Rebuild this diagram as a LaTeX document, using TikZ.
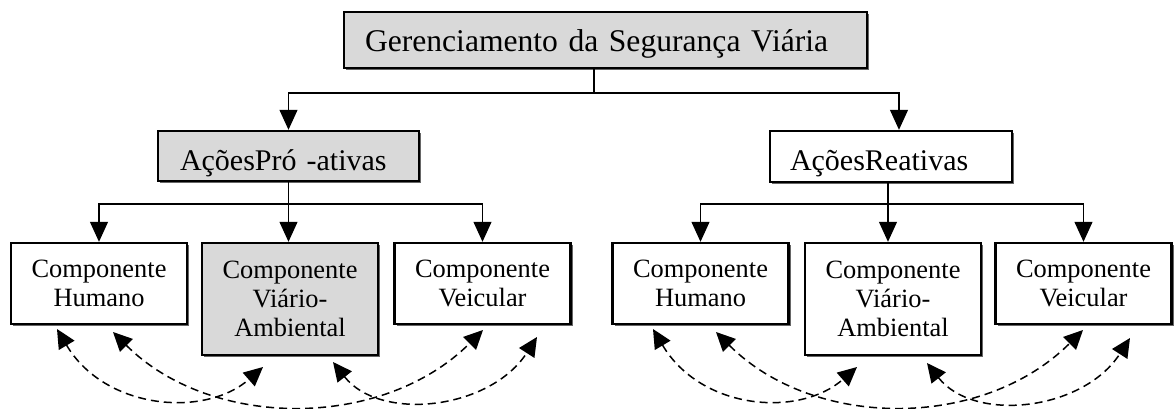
\documentclass[tikz,border=0pt]{standalone}
\usepackage{fontspec}
\setmainfont{Liberation Serif}
\usetikzlibrary{arrows.meta,shadows}

\tikzset{
  box/.style={draw, line width=1.2pt, fill=white,
    drop shadow={shadow xshift=1pt, shadow yshift=-1pt, opacity=1, fill=black!60}},
  greyfill/.style={fill=black!15},
  headbox/.style={box, align=left, text depth=0pt},
  compbox/.style={box, align=center, inner sep=0pt,
    font=\fontsize{13.2}{14.5}\selectfont, minimum width=88pt, minimum height=40.5pt},
  flow/.style={-{Triangle[length=10pt,width=9pt]}, line width=0.6pt},
  link/.style={{Triangle[length=9.5pt,width=9pt]}-{Triangle[length=9.5pt,width=9pt]},
    dash pattern=on 4pt off 2.5pt, line width=0.75pt},
}

\begin{document}
\begin{tikzpicture}[x=0.5pt,y=-0.5pt]
      \useasboundingbox (0,0) rectangle (1175,408);
      % upper levels
      \node[headbox, greyfill, font=\fontsize{15.8}{19}\selectfont, text width=240.5pt,
        inner xsep=10.5pt, minimum height=28pt, text height=11pt] (top) at (605.5,40)
        {Gerenciamento da Segurança Viária};
      \node[headbox, greyfill, font=\fontsize{15}{18}\selectfont, text width=108.5pt,
        inner xsep=11pt, minimum height=25pt, text height=14pt] (pro) at (288.5,156)
        {AçõesPró -ativas};
      \node[headbox, font=\fontsize{15}{18}\selectfont, text width=101pt,
        inner xsep=10pt, minimum height=25.5pt, text height=13.5pt] (rea) at (891,156.5)
        {AçõesReativas};
      % components
      \node[compbox] (hum1) at (99,283.5) {Componente\\Humano};
      \node[compbox, greyfill, minimum height=56pt] (via1) at (290,299) {Componente\\Viário-\\Ambiental};
      \node[compbox] (ven1) at (482.5,283.5) {Componente\\Veicular};
      \node[compbox] (hum2) at (700.5,283.5) {Componente\\Humano};
      \node[compbox, minimum height=56pt] (via2) at (893,299) {Componente\\Viário-\\Ambiental};
      \node[compbox] (ven2) at (1083.5,283.5) {Componente\\Veicular};
      % tree lines
      \coordinate (topsplit) at (594,93);
      \coordinate (prosplit) at (288.5,204);
      \coordinate (reasplit) at (888,204);
      \begin{scope}[line width=0.6pt]
        \draw (topsplit |- top.south) -- (topsplit);
        \draw[flow] (topsplit) -| (pro.north);
        \draw[flow] (topsplit) -| ([xshift=4pt]rea.north);
        \draw (pro.south) -- (prosplit);
        \draw[flow] (prosplit) -| (hum1.north);
        \draw[flow] (prosplit) -- (prosplit |- via1.north);
        \draw[flow] (prosplit) -| (ven1.north);
        \draw (reasplit |- rea.south) -- (reasplit);
        \draw[flow] (reasplit) -| (hum2.north);
        \draw[flow] (reasplit) -- (reasplit |- via2.north);
        \draw[flow] (reasplit) -| (ven2.north);
      \end{scope}
      % interactions
      \coordinate (h1a) at (57,329);
      \coordinate (h1b) at (113,332);
      \coordinate (v1a) at (263,367);
      \coordinate (v1b) at (333,362);
      \coordinate (e1a) at (483,330);
      \coordinate (e1b) at (537,337);
      \coordinate (h2a) at (653,329);
      \coordinate (h2b) at (716,332);
      \coordinate (v2a) at (857,367);
      \coordinate (v2b) at (927,363);
      \coordinate (e2a) at (1083,330);
      \coordinate (e2b) at (1130,338);
      \draw[link] (h1a) .. controls +(48,81) and +(-58,51) .. (v1a);
      \draw[link] (h1b) .. controls +(98,98) and +(-100,100) .. (e1a);
      \draw[link] (v1b) .. controls +(47,60) and +(-47,73) .. (e1b);
      \draw[link] (h2a) .. controls +(48,81) and +(-58,51) .. (v2a);
      \draw[link] (h2b) .. controls +(98,98) and +(-100,100) .. (e2a);
      \draw[link] (v2b) .. controls +(47,60) and +(-47,73) .. (e2b);
    \end{tikzpicture}
\end{document}
